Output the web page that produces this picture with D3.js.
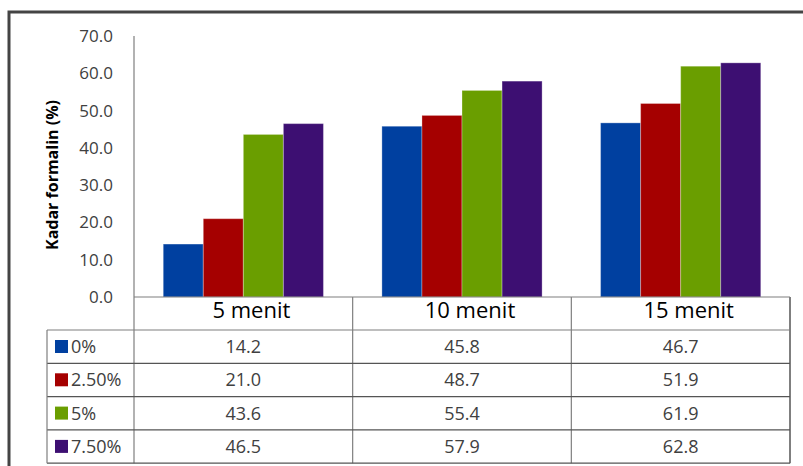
<!DOCTYPE html>
<html>
<head>
<meta charset="utf-8">
<script src="https://cdn.jsdelivr.net/npm/d3@7"></script>
<style>
  body { margin: 0; background: #fff; }
  svg { display: block; font-family: "Open Sans", "Liberation Sans", sans-serif; }
</style>
</head>
<body>
<svg id="chart" width="803" height="466"></svg>
<script>
'use strict';

var categories = ['5 menit', '10 menit', '15 menit'];
var seriesNames = ['0%', '2.50%', '5%', '7.50%'];
var seriesValues = [
    [14.2, 45.8, 46.7],
    [21.0, 48.7, 51.9],
    [43.6, 55.4, 61.9],
    [46.5, 57.9, 62.8]
];
var seriesColors = ['#0040a0', '#a50000', '#6a9e00', '#3d0f72'];
var yTicks = [0, 10, 20, 30, 40, 50, 60, 70];

var svg = d3.select('#chart');

var plotLeft = 134, plotRight = 790, plotTop = 36, plotBase = 297;
var rowH = 33.3, headH = 33, tableLeft = 47;

var x = d3.scaleBand()
    .domain(categories)
    .range([plotLeft, plotRight]);

var xInner = d3.scaleBand()
    .domain(seriesNames)
    .range([0, x.bandwidth()])
    .paddingOuter(0.73);

var y = d3.scaleLinear()
    .domain([0, 70])
    .range([plotBase, plotTop]);

// outer frame
svg.append('path')
    .attr('d', 'M9,470 V12 H810')
    .attr('fill', 'none')
    .attr('stroke', '#444')
    .attr('stroke-width', 3);

// y tick labels
svg.append('g')
    .selectAll('text')
    .data(yTicks)
    .enter().append('text')
    .attr('x', 113)
    .attr('y', function (d) { return y(d) + 6; })
    .attr('text-anchor', 'end')
    .attr('font-size', 17)
    .attr('fill', '#404040')
    .text(function (d) { return d.toFixed(1); });

// axis title
svg.append('text')
    .attr('transform', 'translate(58,175) rotate(-90)')
    .attr('text-anchor', 'middle')
    .attr('font-size', 16)
    .attr('font-weight', 'bold')
    .attr('fill', '#000')
    .text('Kadar formalin (%)');

// bars
var groups = svg.append('g')
    .selectAll('g')
    .data(seriesNames)
    .enter().append('g')
    .attr('fill', function (d, i) { return seriesColors[i]; });

groups.selectAll('rect')
    .data(function (d, i) {
        return categories.map(function (c, j) {
            return { cat: c, s: d, v: seriesValues[i][j] };
        });
    })
    .enter().append('rect')
    .attr('x', function (d) { return x(d.cat) + xInner(d.s); })
    .attr('y', function (d) { return y(d.v); })
    .attr('width', xInner.bandwidth())
    .attr('height', function (d) { return plotBase - y(d.v); })
    .attr('stroke', 'rgba(255,255,255,0.3)')
    .attr('stroke-width', 1);

// table lines
var tableBottom = plotBase + headH + rowH * seriesNames.length;
var lines = svg.append('g')
    .attr('stroke', '#7f7f7f')
    .attr('stroke-width', 1.2)
    .attr('fill', 'none');

// y axis line (continues as table column line)
lines.append('line')
    .attr('x1', plotLeft).attr('x2', plotLeft)
    .attr('y1', plotTop).attr('y2', tableBottom);

lines.append('line')
    .attr('x1', plotLeft).attr('x2', plotRight)
    .attr('y1', plotBase).attr('y2', plotBase);

categories.forEach(function (c, j) {
    lines.append('line')
        .attr('x1', x(c) + x.bandwidth()).attr('x2', x(c) + x.bandwidth())
        .attr('y1', plotBase).attr('y2', tableBottom)
        .attr('stroke-width', j === categories.length - 1 ? 2 : 1.2);
});

d3.range(seriesNames.length + 1).forEach(function (i) {
    lines.append('line')
        .attr('x1', tableLeft).attr('x2', plotRight)
        .attr('y1', plotBase + headH + rowH * i)
        .attr('y2', plotBase + headH + rowH * i)
        .attr('stroke', i === 0 ? '#7f7f7f' : '#555');
});

lines.append('line')
    .attr('x1', tableLeft).attr('x2', tableLeft)
    .attr('y1', plotBase + headH).attr('y2', tableBottom);

// category labels
svg.append('g')
    .selectAll('text')
    .data(categories)
    .enter().append('text')
    .attr('x', function (d) { return x(d) + x.bandwidth() / 2 + 8; })
    .attr('y', plotBase + 21)
    .attr('text-anchor', 'middle')
    .attr('font-size', 22)
    .attr('fill', '#000')
    .text(function (d) { return d; });

// legend rows
var rows = svg.append('g')
    .selectAll('g')
    .data(seriesNames)
    .enter().append('g')
    .attr('transform', function (d, i) {
        return 'translate(0,' + (plotBase + headH + rowH * i) + ')';
    });

rows.append('rect')
    .attr('x', 55)
    .attr('y', 10)
    .attr('width', 13)
    .attr('height', 13)
    .attr('fill', function (d, i) { return seriesColors[i]; });

rows.append('text')
    .attr('x', 71)
    .attr('y', 23)
    .attr('font-size', 18)
    .attr('fill', '#404040')
    .text(function (d) { return d; });

rows.each(function (d, i) {
    d3.select(this).selectAll('text.val')
        .data(seriesValues[i])
        .enter().append('text')
        .attr('class', 'val')
        .attr('x', function (v, j) { return x(categories[j]) + x.bandwidth() / 2; })
        .attr('y', 23)
        .attr('text-anchor', 'middle')
        .attr('font-size', 18)
        .attr('fill', '#404040')
        .text(function (v) { return v.toFixed(1); });
});
</script>
</body>
</html>
